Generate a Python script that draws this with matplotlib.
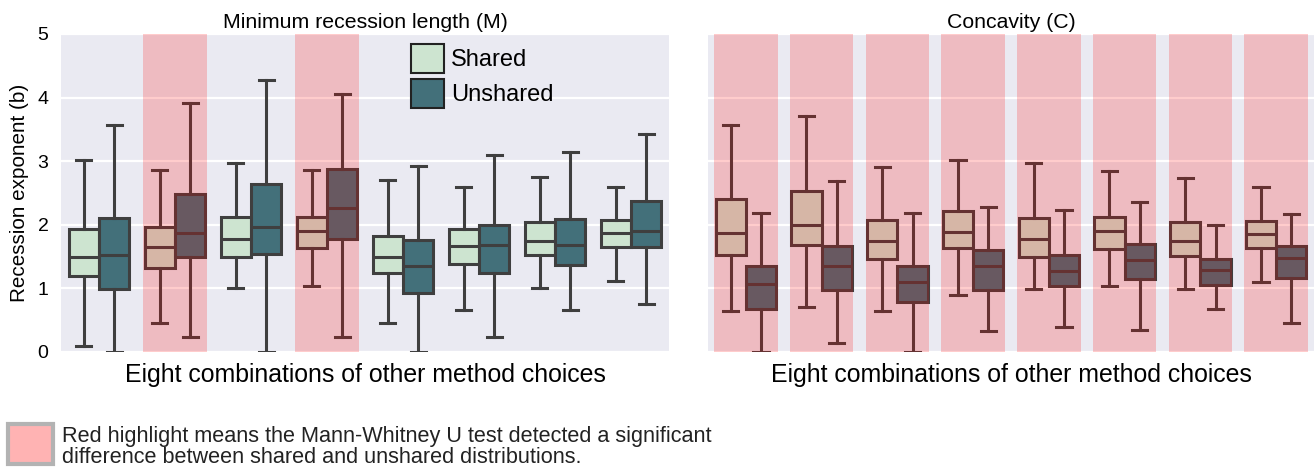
import numpy as np
import matplotlib.pyplot as plt
from matplotlib.patches import Patch, Rectangle

plt.rcParams['font.family'] = ['Liberation Sans', 'DejaVu Sans']

# box stats: (whislo, q1, med, q3, whishi)
m_shared = [
    (0.10, 1.19, 1.50, 1.93, 3.02),
    (0.45, 1.32, 1.65, 1.96, 2.86),
    (1.00, 1.50, 1.77, 2.12, 2.97),
    (1.04, 1.63, 1.91, 2.13, 2.86),
    (0.46, 1.25, 1.49, 1.83, 2.70),
    (0.66, 1.39, 1.66, 1.93, 2.60),
    (1.00, 1.52, 1.75, 2.05, 2.75),
    (1.11, 1.65, 1.87, 2.07, 2.60),
]
m_unshared = [
    (0.00, 0.99, 1.53, 2.10, 3.57),
    (0.23, 1.50, 1.87, 2.49, 3.92),
    (0.00, 1.54, 1.97, 2.64, 4.27),
    (0.23, 1.78, 2.27, 2.88, 4.05),
    (0.00, 0.92, 1.35, 1.76, 2.92),
    (0.23, 1.24, 1.69, 2.00, 3.09),
    (0.66, 1.37, 1.69, 2.09, 3.15),
    (0.75, 1.65, 1.90, 2.38, 3.43),
]
c_shared = [
    (0.65, 1.52, 1.87, 2.41, 3.57),
    (0.70, 1.69, 2.00, 2.53, 3.71),
    (0.65, 1.47, 1.74, 2.08, 2.91),
    (0.90, 1.64, 1.88, 2.21, 3.02),
    (0.99, 1.50, 1.77, 2.11, 2.97),
    (1.04, 1.62, 1.91, 2.12, 2.85),
    (0.99, 1.51, 1.75, 2.04, 2.74),
    (1.10, 1.64, 1.86, 2.06, 2.59),
]
c_unshared = [
    (0.00, 0.68, 1.07, 1.36, 2.18),
    (0.14, 0.97, 1.35, 1.66, 2.69),
    (0.00, 0.78, 1.10, 1.35, 2.18),
    (0.33, 0.98, 1.35, 1.61, 2.28),
    (0.40, 1.03, 1.27, 1.52, 2.24),
    (0.34, 1.14, 1.44, 1.70, 2.36),
    (0.68, 1.06, 1.29, 1.46, 1.99),
    (0.45, 1.16, 1.48, 1.66, 2.17),
]
m_signif = [False, True, False, True, False, False, False, False]
c_signif = [True] * 8

titles = ['Minimum recession length (M)', 'Concavity (C)']
xlabel = 'Eight combinations of other method choices'
ylabel = 'Recession exponent (b)'
series_names = ['Shared', 'Unshared']
note = ('Red highlight means the Mann-Whitney U test detected a significant\n'
        'difference between shared and unshared distributions.')

shared_col = '#cde4d0'
unshared_col = '#43707a'
edge_col = '#3f3f3f'
bg_col = '#eaeaf2'


def to_stats(rows):
    return [dict(whislo=r[0], q1=r[1], med=r[2], q3=r[3], whishi=r[4], fliers=[])
            for r in rows]


def draw_panel(ax, shared, unshared, signif, title):
    ax.set_facecolor(bg_col)
    for s in ax.spines.values():
        s.set_visible(False)
    ax.grid(axis='y', color='white', lw=1.6)
    ax.set_axisbelow(True)
    n = len(shared)
    pos = np.arange(n)
    for data, off, col in [(shared, -0.2, shared_col), (unshared, 0.2, unshared_col)]:
        ax.bxp(to_stats(data), positions=pos + off, widths=0.4, patch_artist=True,
               showfliers=False, capwidths=0.2,
               boxprops=dict(facecolor=col, edgecolor=edge_col, lw=2.2),
               medianprops=dict(color=edge_col, lw=2.2),
               whiskerprops=dict(color=edge_col, lw=2.2),
               capprops=dict(color=edge_col, lw=2.2))
    for i, sig in enumerate(signif):
        if sig:
            ax.axvspan(i - 0.42, i + 0.42, color='red', alpha=0.2, lw=0, zorder=5)
    ax.set_xlim(-0.5, n - 0.5)
    ax.set_ylim(0, 5)
    ax.set_xticks([])
    ax.set_yticks([0, 1, 2, 3, 4, 5])
    ax.tick_params(axis='y', length=0, pad=9, labelsize=14)
    ax.set_title(title, fontsize=15.3, pad=4)
    ax.set_xlabel(xlabel, fontsize=17.9, labelpad=8)


fig = plt.figure(figsize=(13.15, 4.71), dpi=100)
ax1 = fig.add_axes([61 / 1315, 119 / 471, 608 / 1315, 318 / 471])
ax2 = fig.add_axes([708 / 1315, 119 / 471, 606 / 1315, 318 / 471])

draw_panel(ax1, m_shared, m_unshared, m_signif, titles[0])
draw_panel(ax2, c_shared, c_unshared, c_signif, titles[1])
ax2.set_yticklabels([])
ax1.set_ylabel(ylabel, fontsize=14.9, labelpad=6)

handles = [Patch(facecolor=shared_col, edgecolor='#222222', lw=1.5),
           Patch(facecolor=unshared_col, edgecolor='#222222', lw=1.5)]
ax1.legend(handles, series_names, loc='upper left', bbox_to_anchor=(0.54, 1.035),
           frameon=False, fontsize=17, handlelength=1.4, handleheight=1.5,
           handletextpad=0.3, labelspacing=0.25)

fig.patches.append(Rectangle((8 / 1315, 7 / 471), 45 / 1315, 40 / 471,
                             transform=fig.transFigure, facecolor='#ffb3b3',
                             edgecolor='#b3b3b3', lw=3))
fig.text(62 / 1315, 24 / 471, note, fontsize=15.6, va='center', ha='left',
         linespacing=0.95, color='#222222')

fig.savefig('out.png', dpi=100)
